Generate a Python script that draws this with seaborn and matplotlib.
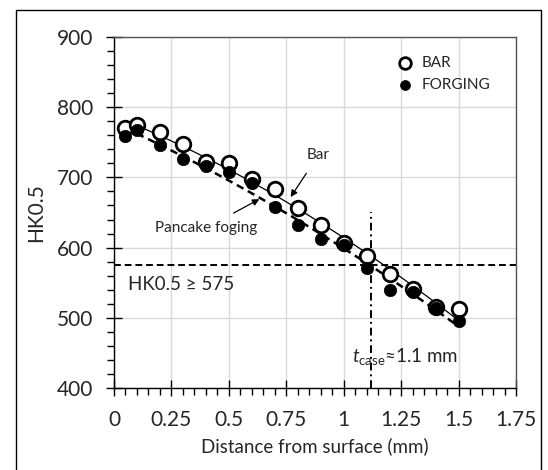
import numpy as np
import pandas as pd
import matplotlib
matplotlib.use("Agg")
import matplotlib.pyplot as plt
from matplotlib.ticker import MultipleLocator
import seaborn as sns

# ---- data ----
depth = [0.05, 0.1, 0.2, 0.3, 0.4, 0.5, 0.6, 0.7, 0.8, 0.9, 1.0, 1.1, 1.2, 1.3, 1.4, 1.5]
bar_hk = [770, 774, 765, 748, 722, 720, 698, 684, 656, 632, 606, 588, 562, 541, 516, 512]
forging_hk = [759, 767, 746, 726, 716, 708, 692, 658, 632, 612, 603, 571, 540, 537, 514, 496]
series_names = ["BAR", "FORGING"]
limit_hk = 575
t_case = 1.12
x_ticks = [0, 0.25, 0.5, 0.75, 1, 1.25, 1.5, 1.75]
x_tick_labels = ["0", "0.25", "0.5", "0.75", "1", "1.25", "1.5", "1.75"]
y_ticks = [400, 500, 600, 700, 800, 900]

sns.set_style("white")
plt.rcParams["font.family"] = ["Lato", "DejaVu Sans"]
plt.rcParams["mathtext.fontset"] = "custom"
plt.rcParams["mathtext.rm"] = "Lato"
plt.rcParams["mathtext.it"] = "Lato:italic"

fig = plt.figure(figsize=(5.48, 4.70), dpi=100)
ax = fig.add_axes([114/548, 1-388/470, (516-114)/548, (388-37)/470])

# outer frame
fig.patches.append(plt.Rectangle((16/548, -0.02), (541-16)/548, 1-10/470+0.02,
                                 transform=fig.transFigure, fill=False,
                                 edgecolor="black", linewidth=1.0, zorder=0))

df = pd.DataFrame({"depth": depth, "BAR": bar_hk, "FORGING": forging_hk})

# trend lines (quadratic fits)
xx = np.linspace(min(depth), max(depth), 100)
pb = np.polyfit(depth, bar_hk, 2)
pf = np.polyfit(depth, forging_hk, 2)
sns.lineplot(x=xx, y=np.polyval(pb, xx), ax=ax, color="black", lw=0.9, zorder=3)
sns.lineplot(x=xx, y=np.polyval(pf, xx), ax=ax, color="black", lw=1.8,
             linestyle=(0, (3, 2)), zorder=3)

# reference lines
ax.axhline(limit_hk, color="black", lw=1.4, linestyle=(0, (3.5, 2)), zorder=2)
ax.plot([t_case, t_case], [400, 650], color="black", lw=1.4,
        linestyle=(0, (4, 2, 1, 2)), zorder=2)

sns.scatterplot(data=df, x="depth", y="BAR", ax=ax, marker="o", s=110,
                facecolor="white", edgecolor="black", linewidth=2.0, zorder=4,
                label="BAR")
sns.scatterplot(data=df, x="depth", y="FORGING", ax=ax, marker="o", s=80,
                color="black", edgecolor="black", linewidth=0.5, zorder=5,
                label="FORGING")

ax.set_xlim(0, 1.75)
ax.set_ylim(400, 900)
ax.set_xticks(x_ticks)
ax.set_xticklabels(x_tick_labels)
ax.set_yticks(y_ticks)
ax.xaxis.set_minor_locator(MultipleLocator(0.05))
ax.yaxis.set_minor_locator(MultipleLocator(20))
ax.grid(True, which="major", color="#d9d9d9", lw=1.0, zorder=0)
ax.set_axisbelow(True)
ax.tick_params(axis="both", which="major", direction="inout", length=12,
               width=1.0, color="black", labelsize=15)
ax.tick_params(axis="y", which="major", pad=9)
ax.tick_params(axis="x", which="major", pad=10)
ax.tick_params(axis="both", which="minor", direction="out", length=5,
               width=1.0, color="black")
ax.tick_params(axis="x", which="both", bottom=True)
ax.tick_params(axis="y", which="both", left=True)
for side in ["left", "bottom"]:
    ax.spines[side].set_color("black")
    ax.spines[side].set_linewidth(1.0)
for side in ["top", "right"]:
    ax.spines[side].set_color("#555555")
    ax.spines[side].set_linewidth(1.0)

ax.set_xlabel("Distance from surface (mm)", fontsize=13.5, labelpad=5)
ax.set_ylabel("HK0.5", fontsize=15, labelpad=8)

# annotations
ax.annotate("Bar", xy=(0.769, 672), xytext=(0.89, 732), fontsize=11,
            ha="center", va="center",
            arrowprops=dict(arrowstyle="-|>", color="black", lw=0.9,
                            shrinkA=7, shrinkB=0, mutation_scale=10))
ax.annotate("Pancake foging", xy=(0.633, 669), xytext=(0.40, 628), fontsize=11,
            ha="center", va="center",
            arrowprops=dict(arrowstyle="-|>", color="black", lw=0.9,
                            shrinkA=7, shrinkB=0, mutation_scale=10))
ax.text(0.063, 547, "HK0.5 \u2265 575", fontsize=13.5, ha="left", va="center")
ax.text(1.035, 445, r"$\mathit{t}_{\mathrm{case}}$" + "\u2248" + "1.1 mm",
        fontsize=13.5, ha="left", va="center")

# legend
h, l = ax.get_legend_handles_labels()
order = [l.index(n) for n in series_names]
leg = ax.legend([h[i] for i in order], [l[i] for i in order],
                loc="upper left", bbox_to_anchor=(0.652, 0.985), frameon=False,
                fontsize=11, handletextpad=0.1, labelspacing=0.55,
                markerscale=0.8)

fig.savefig("out.png", dpi=100)
